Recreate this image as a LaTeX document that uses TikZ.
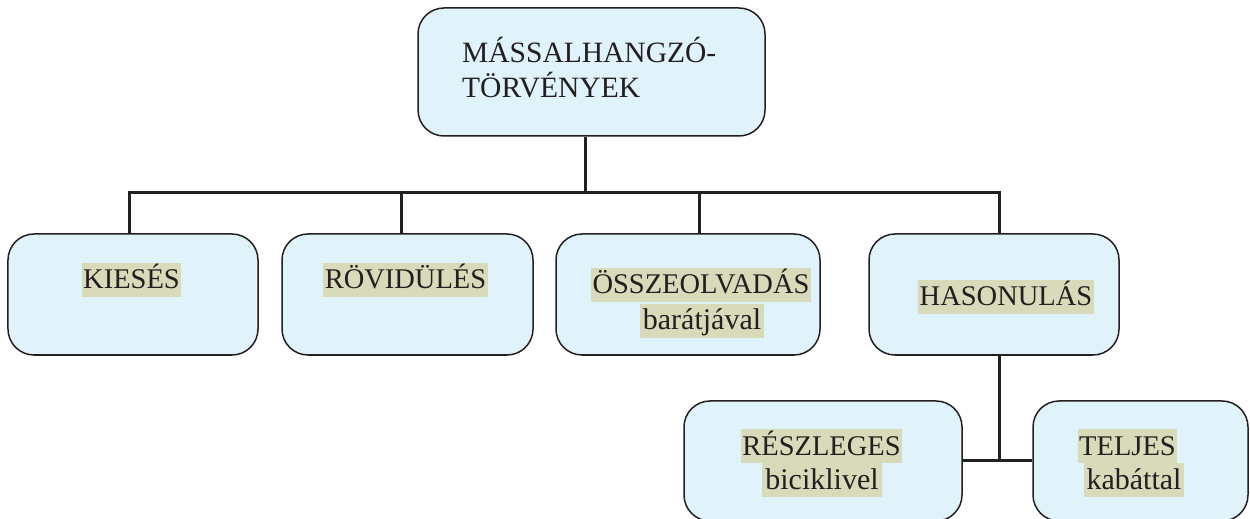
\documentclass[tikz,border=0pt]{standalone}
\usepackage{fontspec}
\setmainfont{Liberation Serif}
\definecolor{boxfill}{HTML}{E0F3FA}
\definecolor{boxline}{HTML}{231F20}
\definecolor{hlfill}{HTML}{D7DBB9}
\definecolor{txt}{HTML}{231F20}
\definecolor{linec}{HTML}{231F20}
\begin{document}
\begin{tikzpicture}[x=1bp,y=-1bp,
 box/.style={draw=boxline, line width=1.5bp, fill=boxfill, rounded corners=26bp, inner sep=0pt},
 conn/.style={draw=linec, line width=3bp},
 hl/.style={fill=hlfill, text=txt, inner xsep=1.5bp, inner ysep=0bp, text height=26bp, text depth=8bp, font=\fontsize{28.5bp}{30bp}\selectfont},
 hlsmall/.style={hl, inner xsep=3bp, font=\fontsize{30bp}{32bp}\selectfont},
 ttl/.style={text=txt, inner sep=0pt, font=\fontsize{29.5bp}{35bp}\selectfont}]
\useasboundingbox (0,0) rectangle (1250,519);
% boxes
\node[box, minimum width=347bp, minimum height=128bp] (top) at (591.5,72) {};
\node[box, minimum width=250bp, minimum height=121bp] (k1) at (133,294.5) {};
\node[box, minimum width=251bp, minimum height=121bp] (k2) at (407.5,294.5) {};
\node[box, minimum width=264bp, minimum height=121bp] (k3) at (688,294.5) {};
\node[box, minimum width=250bp, minimum height=121bp] (k4) at (994,294.5) {};
\node[box, minimum width=278bp, minimum height=120bp] (r) at (823,461) {};
\node[box, minimum width=215bp, minimum height=120bp] (tl) at (1140.5,461) {};
% texts
\node[ttl, anchor=west] (t1) at (462,50) {MÁSSALHANGZÓ-};
\node[ttl, anchor=west] (t2) at (462,85) {TÖRVÉNYEK};
\node[hl] (l1) at (131.5,280) {KIESÉS};
\node[hl] (l2) at (405.5,280) {RÖVIDÜLÉS};
\node[hl] (l3a) at (701,285) {ÖSSZEOLVADÁS};
\node[hlsmall] (l3b) at (702,321) {barátjával};
\node[hl] (l4) at (1006,297) {HASONULÁS};
\node[hl] (l5a) at (821.5,446) {RÉSZLEGES};
\node[hlsmall] (l5b) at (822,480) {biciklivel};
\node[hl] (l6a) at (1127.5,446) {TELJES};
\node[hlsmall] (l6b) at (1134,480) {kabáttal};
% connectors
\coordinate (hb) at (585,193);
\coordinate (c1) at (129,193);
\coordinate (c2) at (401,193);
\coordinate (c3) at (699,193);
\coordinate (c4) at (999,193);
\coordinate (c5) at (999,460);
\draw[conn] (hb |- top.south) -- (hb);
\draw[conn, line cap=rect] (c1) -- (c4);
\draw[conn] (c1) -- (c1 |- k1.north);
\draw[conn] (c2) -- (c2 |- k2.north);
\draw[conn] (c3) -- (c3 |- k3.north);
\draw[conn] (c4) -- (c4 |- k4.north);
\draw[conn] (c4 |- k4.south) -- (c5);
\draw[conn] (r.east |- c5) -- (tl.west |- c5);
\end{tikzpicture}
\end{document}
